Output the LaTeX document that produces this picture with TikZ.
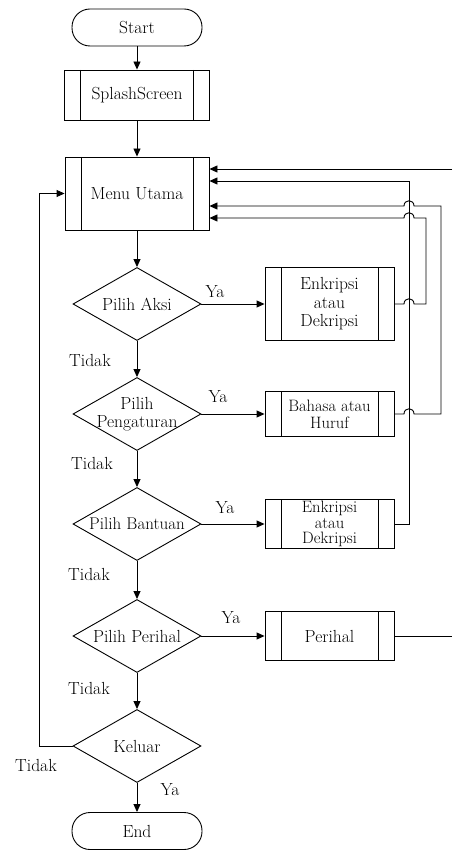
\documentclass[tikz,border=0pt]{standalone}
\usetikzlibrary{shapes.geometric,arrows.meta}
\begin{document}
\begin{tikzpicture}[x=1pt,y=-1pt,
 every node/.style={font=\fontsize{17.5}{18}\selectfont},
 line/.style={draw=black, line width=0.9pt},
 arr/.style={line, -{Triangle[length=8pt,width=7pt]}},
 term/.style={draw, line width=0.9pt, rounded corners=18pt, minimum width=130pt, minimum height=37pt, inner sep=0pt},
 proc/.style={draw, line width=0.9pt, inner sep=0pt, align=center,
   path picture={\draw[line width=0.9pt]
     ([xshift=16pt]path picture bounding box.north west) -- ([xshift=16pt]path picture bounding box.south west)
     ([xshift=-16pt]path picture bounding box.north east) -- ([xshift=-16pt]path picture bounding box.south east);}},
 sub/.style={proc, minimum width=129pt},
 dec/.style={draw, diamond, line width=0.9pt, minimum width=128pt, minimum height=73pt, inner sep=0pt}
]
\useasboundingbox (0,0) rectangle (452,850);

% main column
\node[term] (start) at (137,27.5) {Start};
\node[proc, minimum width=145pt, minimum height=50pt] (splash) at (137,95) {SplashScreen};
\node[proc, minimum width=144pt, minimum height=73pt] (menu) at (137,193.5) {Menu Utama};
\node[dec, label={center:Pilih Aksi}] (d1) at (137,304) {};
\node[dec, label={[align=center]center:Pilih\\Pengaturan}] (d2) at (137,414) {};
\node[dec, label={[font=\fontsize{17}{18}\selectfont]center:Pilih Bantuan}] (d3) at (137,524) {};
\node[dec, label={center:Pilih Perihal}] (d4) at (137,636) {};
\node[dec, label={center:Keluar}] (d5) at (137,746) {};
\node[term] (end) at (137,831) {End};

% sub processes
\node[sub, minimum height=73pt, font=\fontsize{17.5}{18.5}\selectfont] (b1) at (329.5,304) {Enkripsi\\atau\\Dekripsi};
\node[sub, minimum height=45pt, font=\fontsize{16.5}{17}\selectfont] (b2) at (329.5,414) {Bahasa atau\\Huruf};
\node[sub, minimum height=49pt, font=\fontsize{16.5}{15.5}\selectfont] (b3) at (329.5,524) {Enkripsi\\atau\\Dekripsi};
\node[sub, minimum height=49pt] (b4) at (329.5,636) {Perihal};

% vertical flow
\draw[arr] (start) -- (splash);
\draw[arr] (splash) -- (menu);
\draw[arr] (menu) -- (d1);
\draw[arr] (d1) -- (d2);
\draw[arr] (d2) -- (d3);
\draw[arr] (d3) -- (d4);
\draw[arr] (d4) -- (d5);
\draw[arr] (d5) -- (end);

% yes branches
\draw[arr] (d1.east) -- (b1.west);
\draw[arr] (d2.east) -- (b2.west);
\draw[arr] (d3.east) -- (b3.west);
\draw[arr] (d4.east) -- (b4.west);

% Keluar loop back
\coordinate (lp) at (39,746);
\draw[arr] (d5.west) -- (lp) |- (menu.west);

% returns to menu
\coordinate (eR) at (452,169);
\draw[arr] (eR) -- (menu.east |- eR);
\coordinate (pR) at (452,636);
\draw[line] (b4.east) -- (pR);

\coordinate (v1) at (409,181);
\draw[arr] (b3.east) -| (v1) -- (menu.east |- v1);

\coordinate (v2) at (441,206);
\draw[arr] (b2.east) -- (404,414) .. controls (404,407) and (414,407) .. (414,414)
  -- (441,414) -- (v2) -- (414,206) .. controls (414,199) and (404,199) .. (404,206)
  -- (menu.east |- v2);

\coordinate (v3) at (426,218);
\draw[arr] (b1.east) -- (404,304) .. controls (404,297) and (414,297) .. (414,304)
  -- (426,304) -- (v3) -- (414,218) .. controls (414,211) and (404,211) .. (404,218)
  -- (menu.east |- v3);

% labels
\node (ya1) at (215,292) {Ya};
\node (t1) at (90,360) {Tidak};
\node (ya2) at (218,397) {Ya};
\node (t2) at (92,463) {Tidak};
\node (ya3) at (225,508) {Ya};
\node (t3) at (89,574) {Tidak};
\node (ya4) at (231,618) {Ya};
\node (t4) at (89,688) {Tidak};
\node (t5) at (36,765) {Tidak};
\node (ya5) at (170,790) {Ya};
\end{tikzpicture}
\end{document}
